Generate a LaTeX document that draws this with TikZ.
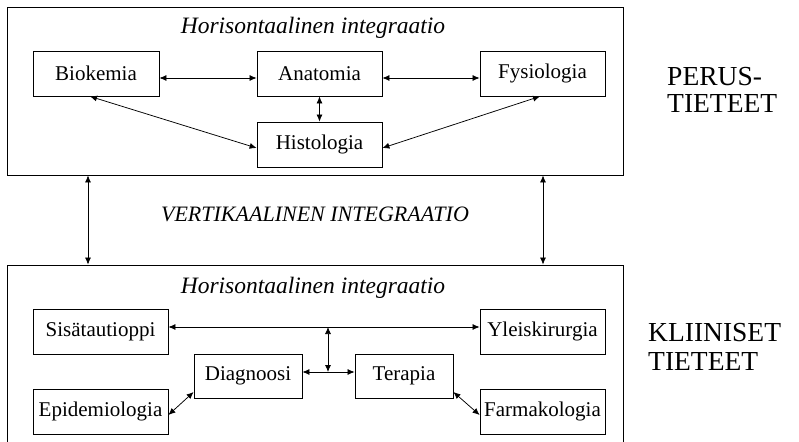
\documentclass[tikz,border=0pt]{standalone}
\usepackage{fontspec}
\setmainfont{Liberation Serif}
\usetikzlibrary{arrows.meta}
\begin{document}
\begin{tikzpicture}[x=1pt,y=-1pt,
  big/.style={draw,line width=0.8pt,inner sep=0pt},
  box/.style={draw,line width=0.8pt,inner sep=0pt,minimum height=45pt,font=\fontsize{21}{22}\selectfont},
  head/.style={font=\fontsize{23.5}{25}\selectfont\itshape,inner sep=0pt},
  side/.style={font=\fontsize{27.5}{29}\selectfont,inner sep=0pt,anchor=base west},
  conn/.style={line width=0.75pt,{Latex[length=7pt,width=6pt]}-{Latex[length=7pt,width=6pt]}}]
\useasboundingbox (0,0) rectangle (799,441);
% outer boxes
\node[big,minimum width=616pt,minimum height=168pt] (top) at (315,91) {};
\node[big,minimum width=616pt,minimum height=200pt] (bot) at (315,365) {};
% top section
\node[head] (h1) at (313,28) {Horisontaalinen integraatio};
\node[box,minimum width=126pt] (bio) at (96,73.5) {Biokemia};
\node[box,minimum width=125pt] (ana) at (319.5,73.5) {Anatomia};
\node[box,minimum width=125pt] (fys) at (542.5,73.5) {Fysiologia};
\node[box,minimum width=125pt] (his) at (319.5,144.5) {Histologia};
\draw[conn] ([yshift=-4.5pt]bio.east) -- ([yshift=-4.5pt]ana.west);
\draw[conn] ([yshift=-4.5pt]ana.east) -- ([yshift=-4.5pt]fys.west);
\draw[conn] (ana.south) -- (his.north);
\draw[conn] ([xshift=-6pt]bio.south) -- ([yshift=-3.5pt]his.west);
\draw[conn] ([xshift=-2.5pt]fys.south) -- ([yshift=-3.5pt]his.east);
% side labels
\node[side] (p1) at (667,86) {PERUS-};
\node[side] (p2) at (667,113) {TIETEET};
\node[side] (k1) at (648,341.5) {KLIINISET};
\node[side] (k2) at (648,370) {TIETEET};
% vertical integration
\node[font=\fontsize{22}{24}\selectfont\itshape,inner sep=0pt] (vert) at (315,214) {VERTIKAALINEN INTEGRAATIO};
\draw[conn] ([xshift=-227pt]top.south) -- ([xshift=-227pt]bot.north);
\draw[conn] ([xshift=228pt]top.south) -- ([xshift=228pt]bot.north);
% bottom section
\node[head] (h2) at (313,288) {Horisontaalinen integraatio};
\node[box,minimum width=135pt] (sis) at (100.5,331.5) {Sisätautioppi};
\node[box,minimum width=125pt] (yle) at (542.5,331.5) {Yleiskirurgia};
\node[box,minimum width=108pt,minimum height=44pt] (dia) at (248,376) {Diagnoosi};
\node[box,minimum width=98pt,minimum height=44pt] (ter) at (404,376) {Terapia};
\node[box,minimum width=135pt] (epi) at (100.5,411.5) {Epidemiologia};
\node[box,minimum width=125pt] (far) at (542.5,411.5) {Farmakologia};
\coordinate (j1) at (328,327);
\coordinate (j2) at (328,372);
\draw[conn] ([yshift=4.5pt]sis.east) -- ([yshift=4.5pt]yle.west);
\draw[conn] ([yshift=4pt]dia.east) -- ([yshift=4pt]ter.west);
\draw[conn] (j1) -- (j2);
\draw[conn] ([yshift=-3.5pt]epi.east) -- ([yshift=-16pt]dia.west);
\draw[conn] ([yshift=-16pt]ter.east) -- ([yshift=-3.5pt]far.west);
\end{tikzpicture}
\end{document}
